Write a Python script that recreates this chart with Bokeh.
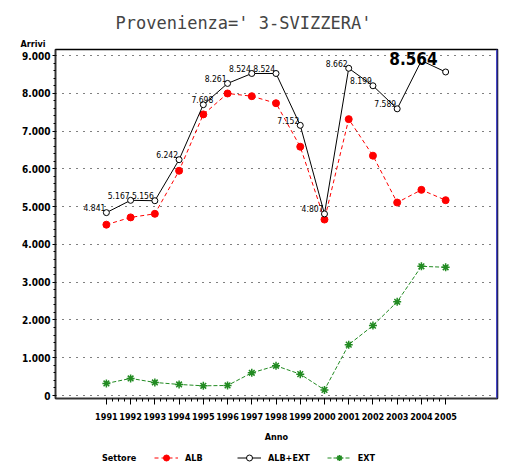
from bokeh.plotting import figure
from bokeh.models import (ColumnDataSource, FixedTicker, Range1d, Legend, LegendItem,
                          Span, Title)
from bokeh.layouts import column
from bokeh.core.properties import value
from bokeh.embed import file_html
from bokeh.resources import INLINE

# ---------------- data ----------------
years = [1991, 1992, 1993, 1994, 1995, 1996, 1997, 1998, 1999, 2000,
         2001, 2002, 2003, 2004, 2005]
alb = [4522, 4715, 4810, 5949, 7441, 7995, 7923, 7737, 6586, 4658,
       7316, 6348, 5108, 5444, 5170]
alb_ext = [4841, 5167, 5156, 6242, 7698, 8261, 8524, 8524, 7152, 4807,
           8662, 8199, 7589, 8864, 8564]
ext = [319, 452, 346, 293, 257, 266, 601, 787, 566, 149,
       1346, 1851, 2481, 3420, 3394]
y_ticks = [0, 1000, 2000, 3000, 4000, 5000, 6000, 7000, 8000, 9000]
y_tick_labels = ["0", "1.000", "2.000", "3.000", "4.000", "5.000",
                 "6.000", "7.000", "8.000", "9.000"]
series_names = ["ALB", "ALB+EXT", "EXT"]
legend_title = "Settore"
title_text = "Provenienza=' 3-SVIZZERA'"
y_title = "Arrivi"
x_title = "Anno"


def it_fmt(v):
    return f"{v:,}".replace(",", ".")


NARROW = "DejaVu Sans Condensed, Liberation Sans"
RED = "#ff0000"
GREEN = "#228b22"

p = figure(width=500, height=448,
           output_backend="svg", toolbar_location=None,
           x_range=Range1d(1988.9, 2007.14), y_range=Range1d(-79, 9159),
           min_border_left=55, min_border_right=3, min_border_top=49,
           min_border_bottom=50)
p.background_fill_color = "white"
p.border_fill_color = "white"
p.outline_line_color = "black"
p.outline_line_width = 1.5

# title
p.title.text = title_text
p.title.text_font = "DejaVu Sans Mono"
p.title.text_font_size = "17px"
p.title.text_font_style = "normal"
p.title.align = "left"
p.title.offset = 60
p.title.standoff = 8

# "Arrivi" above the y axis
p.add_layout(Title(text=y_title, align="left", offset=-35, standoff=1,
                   text_font=NARROW, text_font_size="9px", text_font_style="bold",
                   text_color="black"), "above")

# axes
p.xaxis.ticker = FixedTicker(ticks=years,
                             minor_ticks=[years[0] + i * 0.25 for i in range(4 * (len(years) - 1) + 1)])
p.yaxis.ticker = FixedTicker(ticks=y_ticks,
                             minor_ticks=[i * 200 for i in range(46)])
p.yaxis.major_label_overrides = {t: l for t, l in zip(y_ticks, y_tick_labels)}
for ax in (p.xaxis[0], p.yaxis[0]):
    ax.axis_line_color = "#333333"
    ax.axis_line_width = 1.5
    ax.major_tick_line_color = "black"
    ax.minor_tick_line_color = "black"
    ax.major_tick_in = 0
    ax.minor_tick_in = 0
    ax.major_label_text_font = NARROW
    ax.major_label_text_font_style = "bold"
    ax.major_label_text_color = "black"
p.xaxis.major_tick_out = 6
p.xaxis.minor_tick_out = 3
p.xaxis.major_label_text_font_size = "9px"
p.xaxis.major_label_standoff = 8
p.yaxis.major_tick_out = 3
p.yaxis.minor_tick_out = 2
p.yaxis.major_label_text_font_size = "10px"
p.yaxis.major_label_standoff = 2

# "Anno" as a centred caption below the axis
anno = Title(text=x_title, align="center", standoff=8,
             text_font=NARROW, text_font_size="9px", text_font_style="bold",
             text_color="black")
try:
    anno.padding = 3
except Exception:
    anno.standoff = 11
p.add_layout(anno, "below")

# grid
p.xgrid.grid_line_color = None
p.ygrid.ticker = FixedTicker(ticks=y_ticks)
p.ygrid.grid_line_color = "black"
p.ygrid.grid_line_dash = "1 6"
p.ygrid.grid_line_width = 1

src = ColumnDataSource(dict(x=years, alb=alb, alb_ext=alb_ext, ext=ext))

STY_ALB_L = dict(line_color=RED, line_dash="4 3", line_width=1)
STY_ALB_M = dict(marker="circle", size=7, fill_color=RED, line_color=RED)
STY_TOT_L = dict(line_color="black", line_width=1)
STY_TOT_M = dict(marker="circle", size=6, fill_color="white", line_color="black", line_width=1)
STY_EXT_L = dict(line_color=GREEN, line_dash="4 2", line_width=1)
STY_EXT_M = dict(marker="asterisk", size=8, line_color=GREEN, line_width=1.5)

p.line("x", "alb", source=src, **STY_ALB_L)
p.scatter("x", "alb", source=src, **STY_ALB_M)
p.line("x", "alb_ext", source=src, **STY_TOT_L)
p.scatter("x", "alb_ext", source=src, **STY_TOT_M)
p.line("x", "ext", source=src, **STY_EXT_L)
p.scatter("x", "ext", source=src, **STY_EXT_M)

# data labels for ALB+EXT
lab_idx = list(range(13))
lab_dx = [-1] * 13
lab_dx[4] = 10
lab_src = ColumnDataSource(dict(x=[years[i] for i in lab_idx],
                                y=[alb_ext[i] for i in lab_idx],
                                t=[it_fmt(alb_ext[i]) for i in lab_idx],
                                dx=lab_dx))
p.text("x", "y", text="t", source=lab_src, x_offset="dx", y_offset=-5,
       text_align="right", text_baseline="alphabetic",
       text_font=value(NARROW), text_font_size="8.5px", text_color="black")
big_src = ColumnDataSource(dict(x=[years[14]], y=[alb_ext[14]], t=[it_fmt(alb_ext[14])]))
p.text("x", "y", text="t", source=big_src, x_offset=-8, y_offset=-13,
       text_align="right", text_baseline="alphabetic",
       text_font=value(NARROW), text_font_size="17px", text_font_style="bold",
       text_color="black")

p.add_layout(Span(location=2007.14, dimension="height", line_color="#4646c8", line_width=3))

# ---------------- legend strip (separate small figure) ----------------
p2 = figure(width=500, height=17, output_backend="svg", toolbar_location=None,
            x_range=Range1d(0, 1), y_range=Range1d(0, 1),
            x_axis_location=None, y_axis_location=None, min_border=0)
p2.outline_line_color = None
p2.background_fill_color = "white"
p2.border_fill_color = "white"
p2.grid.grid_line_color = None
# same series (outside this strip's ranges) so the legend shows their styles
q_blank = p2.line("x", "alb", source=src, line_alpha=0)
q_alb_l = p2.line("x", "alb", source=src, **STY_ALB_L)
q_alb_m = p2.scatter("x", "alb", source=src, **STY_ALB_M)
q_tot_l = p2.line("x", "alb_ext", source=src, **STY_TOT_L)
q_tot_m = p2.scatter("x", "alb_ext", source=src, **STY_TOT_M)
q_ext_l = p2.line("x", "ext", source=src, **STY_EXT_L)
q_ext_m = p2.scatter("x", "ext", source=src, **STY_EXT_M)

items = [LegendItem(label=legend_title, renderers=[q_blank])]
items += [LegendItem(label=n, renderers=rs) for n, rs in
          zip(series_names, [[q_alb_l, q_alb_m], [q_tot_l, q_tot_m], [q_ext_l, q_ext_m]])]
lg = Legend(items=items, location=(16, 0), orientation="horizontal",
            padding=0, margin=0, spacing=17,
            glyph_width=24, glyph_height=15, label_height=15, label_width=35,
            label_standoff=7, border_line_color=None, background_fill_alpha=0,
            label_text_font=NARROW, label_text_font_size="9px",
            label_text_font_style="bold", label_text_color="black")
p2.add_layout(lg)

layout = column(p, p2, spacing=0)
open("out.html", "w").write(file_html(layout, INLINE))
